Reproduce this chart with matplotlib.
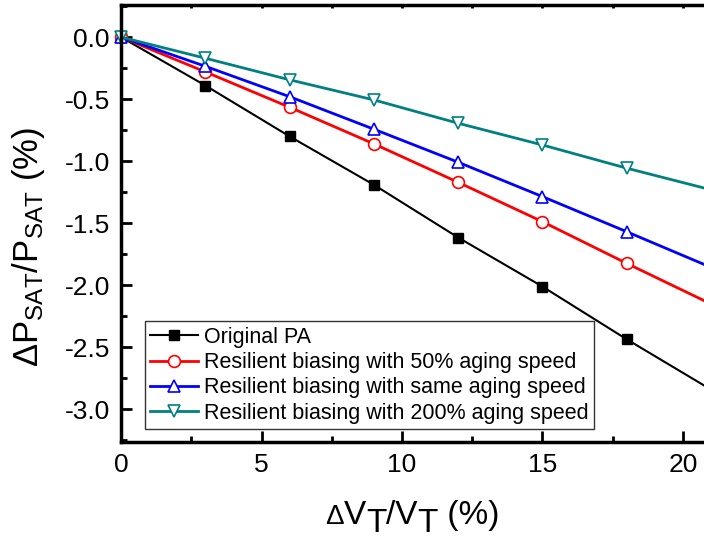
import matplotlib.pyplot as plt
from matplotlib.ticker import MultipleLocator

plt.rcParams['font.family'] = ['Liberation Sans', 'DejaVu Sans']
plt.rcParams['mathtext.fontset'] = 'custom'
plt.rcParams['mathtext.rm'] = 'Liberation Sans'
plt.rcParams['mathtext.it'] = 'Liberation Sans'

## Threshold voltage shift (%)
dvt = [0, 3, 6, 9, 12, 15, 18, 21]
# Saturated output power change (%)
original = [0, -0.39, -0.80, -1.19, -1.615, -2.01, -2.435, -2.84]
bias_50 = [0, -0.28, -0.565, -0.86, -1.17, -1.487, -1.823, -2.15]
bias_same = [0, -0.235, -0.48, -0.742, -1.008, -1.285, -1.568, -1.855]
bias_200 = [0, -0.17, -0.344, -0.506, -0.694, -0.869, -1.056, -1.23]

labels = ['Original PA',
          'Resilient biasing with 50% aging speed',
          'Resilient biasing with same aging speed',
          'Resilient biasing with 200% aging speed']

W, H = 704, 540
fig = plt.figure(figsize=(W / 100, H / 100), dpi=100)
ax = fig.add_axes([0.172, 0.182, 0.828, 0.809])

ax.plot(dvt, original, color='black', lw=1.5, marker='s', ms=7,
        label=labels[0], clip_on=False)
ax.plot(dvt, bias_50, color='red', lw=2, marker='o', ms=8.5,
        mfc='white', mec='red', mew=1.2, label=labels[1], clip_on=False)
ax.plot(dvt, bias_same, color='blue', lw=2, marker='^', ms=9,
        mfc='white', mec='blue', mew=1.2, label=labels[2], clip_on=False)
ax.plot(dvt, bias_200, color='#008080', lw=2, marker='v', ms=9,
        mfc='white', mec='#008080', mew=1.2, label=labels[3], clip_on=False)

## Axis ranges
ax.set_xlim(0, 20.75)
ax.set_ylim(-3.26, 0.26)
ax.xaxis.set_major_locator(MultipleLocator(5))
ax.xaxis.set_minor_locator(MultipleLocator(2.5))
ax.yaxis.set_minor_locator(MultipleLocator(0.25))
ax.set_yticks([0.0, -0.5, -1.0, -1.5, -2.0, -2.5, -3.0])
ax.set_yticklabels(['0.0', '-0.5', '-1.0', '-1.5', '-2.0', '-2.5', '-3.0'])

ax.tick_params(which='both', direction='in', top=True, labelsize=19, pad=8)
ax.tick_params(which='major', length=8, width=2)
ax.tick_params(which='minor', length=4, width=2)
ax.tick_params(axis='x', which='both', top=True, labeltop=False)

## short ticks on the top axis
for t in ax.xaxis.get_major_ticks() + ax.xaxis.get_minor_ticks():
    t.tick2line.set_markersize(2.5)

for side in ['left', 'bottom', 'top']:
    ax.spines[side].set_linewidth(2.5)
ax.spines['right'].set_visible(False)

ax.set_ylabel(r'$\Delta$P$_\mathregular{SAT}$/P$_\mathregular{SAT}$ (%)', fontsize=25)
ax.yaxis.set_label_coords(-0.127, 0.446)

## x label with full-size lowered subscripts, built piece by piece
renderer = fig.canvas.get_renderer()
xpos = 325
for s, size, base in [('\u0394', 20, 16), ('V', 24, 16), ('T', 24, 8),
                      ('/V', 24, 16), ('T', 24, 8), (' (%)', 24, 16)]:
    t = fig.text(xpos / W, base / H, s, fontsize=size, va='baseline', ha='left')
    xpos = t.get_window_extent(renderer).x1

leg = ax.legend(loc='lower left', bbox_to_anchor=(0.041, 0.029), fontsize=15.5,
                frameon=True, fancybox=False, edgecolor='black',
                handlelength=2.2, handletextpad=0.3, borderpad=0.25,
                labelspacing=0.2, borderaxespad=0)
leg.get_frame().set_linewidth(1)

plt.savefig('out.png')
